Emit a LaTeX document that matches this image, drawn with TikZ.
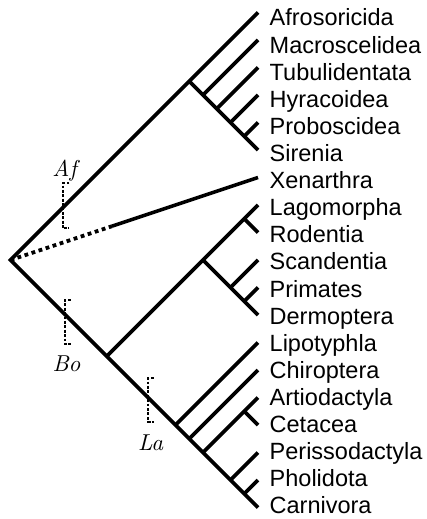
\documentclass[tikz,border=0pt]{standalone}
\usepackage{fontspec}
\usetikzlibrary{calc}
\newfontfamily\labfont{Liberation Sans}
\newfontfamily\cladefont{lmroman10-italic.otf}
\begin{document}
\begin{tikzpicture}[x=1pt,y=-1pt,
  br/.style={line width=3.6pt, black},
  dotbr/.style={line width=3.8pt, black, dash pattern=on 3.8pt off 3.6pt},
  bkt/.style={line width=1.7pt, black, dash pattern=on 2.8pt off 1.6pt},
  lab/.style={anchor=base west, inner sep=0pt, font=\labfont\fontsize{23.5}{26}\selectfont},
  clade/.style={anchor=base, inner sep=0pt, font=\cladefont\fontsize{23}{27}\selectfont}]
\useasboundingbox (0,0) rectangle (426,519);
% tips and labels
\foreach \n [count=\k from 0] in {Afrosoricida,Macroscelidea,Tubulidentata,Hyracoidea,Proboscidea,Sirenia,Xenarthra,Lagomorpha,Rodentia,Scandentia,Primates,Dermoptera,Lipotyphla,Chiroptera,Artiodactyla,Cetacea,Perissodactyla,Pholidota,Carnivora}{
  \coordinate (t\k) at (258,{12.5+27.5*\k});
  \node[lab] (l\k) at (269.5,{26+27.1*\k}) {\n};
}
% internal nodes
\coordinate (root) at (10.5,260);
\coordinate (Af) at (189.25,81.25);
\coordinate (af1) at (203,95);
\coordinate (af2) at (216.75,108.75);
\coordinate (af3) at (230.5,122.5);
\coordinate (af4) at (244.25,136.25);
\coordinate (Bo) at (106.75,356.25);
\coordinate (Eu) at (203,260);
\coordinate (Gl) at (244.25,218.75);
\coordinate (Ea) at (230.5,287.5);
\coordinate (pd) at (244.25,301.25);
\coordinate (La) at (175.5,425);
\coordinate (la1) at (189.25,438.75);
\coordinate (la2) at (203,452.5);
\coordinate (ce) at (244.25,411.25);
\coordinate (la3) at (230.5,480);
\coordinate (la4) at (244.25,493.75);
\coordinate (xd) at ($(root)!0.41!(t6)$);
% spine
\draw[br] (t0) -- (Af) -- (root) -- (Bo) -- (La) -- (t18);
% Afrotheria
\draw[br] (Af) -- (t5);
\draw[br] (af1) -- (t1);
\draw[br] (af2) -- (t2);
\draw[br] (af3) -- (t3);
\draw[br] (af4) -- (t4);
% Xenarthra
\draw[dotbr] (root) -- (xd);
\draw[br] (xd) -- (t6);
% Euarchontoglires
\draw[br] (Bo) -- (t7);
\draw[br] (Gl) -- (t8);
\draw[br] (Eu) -- (t11);
\draw[br] (Ea) -- (t9);
\draw[br] (pd) -- (t10);
% Laurasiatheria
\draw[br] (La) -- (t12);
\draw[br] (la1) -- (t13);
\draw[br] (la2) -- (t14);
\draw[br] (ce) -- (t15);
\draw[br] (la3) -- (t16);
\draw[br] (la4) -- (t17);
% brackets
\draw[bkt] (69.3,183.3) -- (62.7,183.3) -- (62.7,228.3) -- (69.3,228.3);
\draw[bkt] (70.5,300) -- (65,300) -- (65,344) -- (70.5,344);
\draw[bkt] (153.8,378.3) -- (148.3,378.3) -- (148.3,421.7) -- (153.8,421.7);
% clade names
\node[clade] (nAf) at (64.5,176.7) {Af};
\node[clade] (nBo) at (66.5,371.7) {Bo};
\node[clade] (nLa) at (150.5,450) {La};
\end{tikzpicture}
\end{document}
